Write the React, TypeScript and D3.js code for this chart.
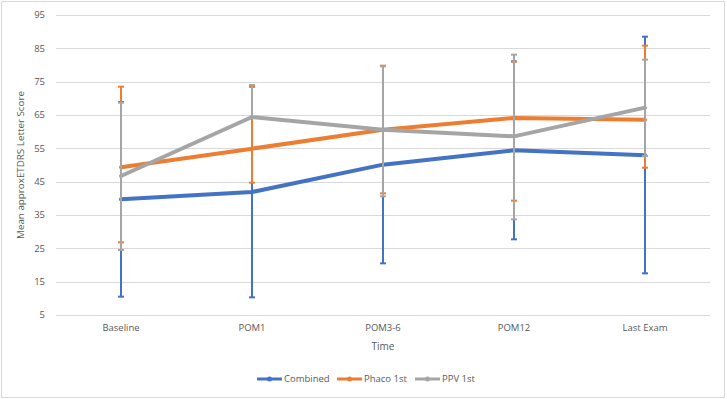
import React from 'react'
import * as d3 from 'd3'

const width = 727
const height = 399
const margin = { left: 56, top: 15, right: 17, bottom: 84 }

const categories = ['Baseline', 'POM1', 'POM3-6', 'POM12', 'Last Exam']
const yTicks = [5, 15, 25, 35, 45, 55, 65, 75, 85, 95]

const seriesNames = ['Combined', 'Phaco 1st', 'PPV 1st']
const seriesColors = ['#4472C4', '#ED7D31', '#A5A5A5']

// means, then lower / upper ends of the error bars
const combinedMean = [39.7, 41.9, 50.1, 54.4, 52.9]
const combinedLow = [10.5, 10.3, 20.5, 27.7, 17.5]
const combinedHigh = [68.9, 73.5, 79.7, 81.1, 88.5]

const phacoMean = [49.3, 54.9, 60.6, 64.1, 63.6]
const phacoLow = [26.8, 44.7, 41.5, 39.3, 49.2]
const phacoHigh = [73.5, 73.7, 79.8, 81.0, 85.8]

const ppvMean = [46.7, 64.4, 60.6, 58.6, 67.2]
const ppvLow = [24.5, 64.4, 40.6, 33.7, 52.7]
const ppvHigh = [68.7, 74.0, 79.6, 83.1, 81.6]

const series = [
  { mean: combinedMean, low: combinedLow, high: combinedHigh },
  { mean: phacoMean, low: phacoLow, high: phacoHigh },
  { mean: ppvMean, low: ppvLow, high: ppvHigh },
]

const font = 'Open Sans, Noto Sans, sans-serif'

export default function App() {
  const x = d3.scaleBand().domain(categories).range([margin.left, width - margin.right])
  const y = d3.scaleLinear().domain([5, 95]).range([height - margin.bottom, margin.top])
  const cx = (c: string) => Math.round((x(c) as number) + x.bandwidth() / 2)

  const line = d3.line<number>()
    .x((_, i) => cx(categories[i]))
    .y(d => y(d))

  const legendX = [257, 337, 415]

  return (
    <div style={{ position: 'absolute', left: 0, top: 0 }}>
      <svg width={width} height={height} style={{ display: 'block', background: '#fff' }}>
        <rect x={1.5} y={1.5} width={width - 4} height={height - 3} fill="#fff" stroke="#D9D9D9" strokeWidth={1} />
        <g>
          {yTicks.map(t => (
            <g key={t}>
              <line x1={margin.left} x2={width - margin.right} y1={Math.round(y(t)) + 0.5} y2={Math.round(y(t)) + 0.5} stroke="#D9D9D9" strokeWidth={1} />
              <text x={45} y={y(t)} dy="0.35em" textAnchor="end" fontSize={9.5} fill="#595959" fontFamily={font}>{t}</text>
            </g>
          ))}
        </g>
        {categories.map(c => (
          <text key={c} x={cx(c)} y={328} dy="0.35em" textAnchor="middle" fontSize={9.5} fill="#595959" fontFamily={font}>{c}</text>
        ))}
        <text x={(margin.left + width - margin.right) / 2} y={346} dy="0.35em" textAnchor="middle" fontSize={10} fill="#595959" fontFamily={font}>Time</text>
        <text transform={`translate(21, ${(y(5) + y(95)) / 2}) rotate(-90)`} textAnchor="middle" dy="0.35em" fontSize={9.8} fill="#595959" fontFamily={font}>Mean approxETDRS Letter Score</text>

        {series.map((s, si) => (
          <g key={si}>
            {s.mean.map((_, i) => {
              const px = cx(categories[i])
              return (
                <g key={i} stroke={seriesColors[si]} strokeWidth={2}>
                  <line x1={px} x2={px} y1={y(s.low[i])} y2={y(s.high[i])} />
                  <line x1={px - 3} x2={px + 3} y1={y(s.low[i])} y2={y(s.low[i])} />
                  <line x1={px - 3} x2={px + 3} y1={y(s.high[i])} y2={y(s.high[i])} />
                </g>
              )
            })}
            <path d={line(s.mean) as string} fill="none" stroke={seriesColors[si]} strokeWidth={4} strokeLinejoin="round" strokeLinecap="round" />
          </g>
        ))}

        {seriesNames.map((n, i) => (
          <g key={n} transform={`translate(${legendX[i]}, 379)`}>
            <line x1={0} x2={25} y1={0} y2={0} stroke={seriesColors[i]} strokeWidth={3} />
            <circle cx={12.5} cy={0} r={2.5} fill={seriesColors[i]} />
            <text x={27} y={0} dy="0.35em" fontSize={9.5} fill="#595959" fontFamily={font}>{n}</text>
          </g>
        ))}
      </svg>
    </div>
  )
}
